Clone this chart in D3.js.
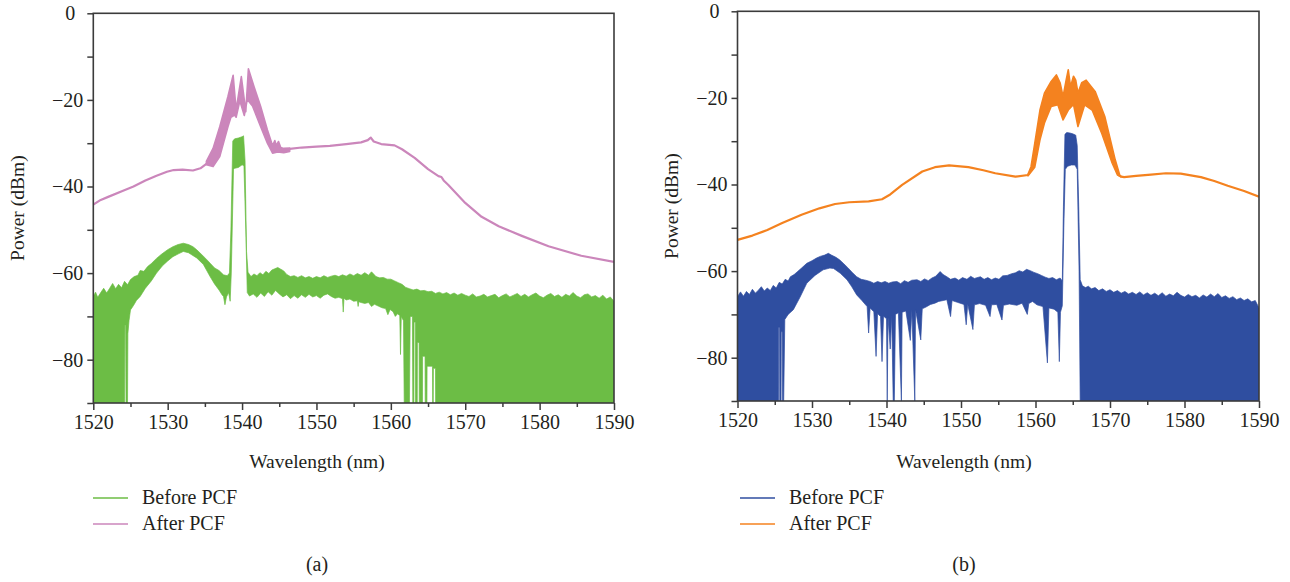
<!DOCTYPE html>
<html><head><meta charset="utf-8">
<script src="https://cdn.jsdelivr.net/npm/d3@7"></script>
<style>
body{margin:0;background:#fff}
svg text{font-family:"Liberation Serif","DejaVu Serif",serif;fill:#231f20}
</style>
</head><body>
<svg id="c" width="1290" height="582"></svg>
<script>
// ---------- axis / label data ----------
const xDomain = [1520, 1590];
const yDomain = [-90, 0];
const xMajorTicks = [1520, 1530, 1540, 1550, 1560, 1570, 1580, 1590];
const xMinorTicks = [1525, 1535, 1545, 1555, 1565, 1575, 1585];
const yMajorTicks = [0, -20, -40, -60, -80];
const yMinorTicks = [-10, -30, -50, -70, -90];
const xTitle = "Wavelength (nm)";
const yTitle = "Power (dBm)";
const seriesNames = ["Before PCF", "After PCF"];
const panelLabels = ["(a)", "(b)"];

// ---------- panel (a) ----------
// After PCF: smooth trace outside the oscillating peak
const afterA_line = [[1520,-44.2],[1521,-43.1],[1522,-42.4],[1524,-41.0],[1525.4,-40.0],[1527,-38.6],[1528.5,-37.5],[1529.9,-36.6],[1530.8,-36.2],[1532,-36.1],[1533.4,-36.3],[1534.4,-35.8],[1535.2,-34.8],[1535.6,-34.2],
  [1546.0,-31.5],[1546.4,-31.3],[1548,-31.0],[1550,-30.8],[1551.8,-30.6],[1554,-30.2],[1556,-29.8],[1556.9,-29.3],[1557.3,-28.7],[1557.7,-29.6],[1558.7,-30.2],[1560.5,-30.5],[1561.5,-31.4],[1563.2,-33.4],[1565,-36.0],[1566.4,-37.6],[1566.8,-37.8],[1567.1,-38.6],[1567.7,-39.6],[1570,-43.8],[1572.2,-47.0],[1574.5,-49.2],[1577.6,-51.4],[1581.2,-53.8],[1585.6,-56.0],[1590,-57.4]];
const afterA_bandUpper = [[1535.2,-34.2],[1536.1,-31.2],[1537,-26.2],[1538.1,-19.2],[1538.8,-14.3],[1539.2,-22.3],[1539.9,-14.6],[1540.5,-22.7],[1540.85,-12.8],[1541.6,-16.9],[1542.5,-21.5],[1543.4,-26.9],[1544.1,-30.6],[1544.4,-29.4],[1544.6,-30.5],[1544.9,-29.6],[1545.2,-31.0],[1545.6,-31.2],[1546.4,-31.1]];
const afterA_bandLower = [[1535.2,-35.0],[1536.1,-35.4],[1537,-33.1],[1538.1,-26.2],[1538.5,-24.0],[1539.0,-23.5],[1539.2,-24.0],[1539.7,-20.2],[1540.3,-23.6],[1540.7,-19.9],[1541.4,-21.4],[1542.5,-26.2],[1543.4,-30.0],[1544.1,-32.3],[1544.8,-32.0],[1545.6,-32.2],[1546.4,-31.9]];

// Before PCF: noisy trace given as its upper and lower envelope
const beforeA_upper = [[1520,-65.4],[1520.3,-64.4],[1520.6,-65.6],[1521,-64.5],[1521.4,-63.5],[1521.8,-64.6],[1522.2,-63.5],[1522.6,-62.4],[1523,-63.6],[1523.4,-62.6],[1523.8,-63.4],[1524.2,-61.9],[1524.6,-62.7],[1525,-61.5],[1525.5,-60.8],[1526,-60.5],[1526.3,-59.4],[1526.8,-59.6],[1527.3,-58.5],[1527.8,-57.8],[1528.5,-56.6],[1529.2,-55.6],[1530,-54.6],[1530.7,-53.9],[1531.4,-53.4],[1532.1,-53.1],[1532.8,-53.4],[1533.4,-53.9],[1533.9,-54.6],[1534.5,-55.6],[1535.1,-56.6],[1535.7,-57.7],[1536.3,-58.8],[1536.9,-59.4],[1537.5,-60.4],[1538.0,-60.6],[1538.3,-60.0],
  [1538.5,-50.0],[1538.75,-29.5],[1539.0,-29.0],[1539.5,-28.8],[1540.0,-28.5],[1540.2,-28.3],[1540.4,-34.0],[1540.6,-55.0],[1540.8,-59.8],
  [1541.2,-60.8],[1541.6,-60.2],[1542,-60.6],[1542.4,-59.9],[1542.8,-60.4],[1543.2,-59.6],[1543.6,-60.1],[1544,-59.3],[1544.4,-59.0],[1544.8,-58.7],[1545.2,-59.1],[1545.6,-59.5],[1546,-60.3],[1546.5,-60.8],[1547,-60.6],[1547.5,-61.0],[1548,-60.6],[1548.5,-61.1],[1549,-60.8],[1549.5,-61.2],[1550,-60.8],[1550.5,-61.1],[1551,-60.6],[1551.5,-61.0],[1552,-60.7],[1552.5,-60.5],[1553,-60.8],[1553.5,-60.4],[1554,-60.7],[1554.5,-60.2],[1555,-60.6],[1555.5,-60.1],[1556,-60.5],[1556.5,-59.9],[1557,-60.5],[1557.4,-59.7],[1558,-60.8],[1558.5,-61.1],[1559,-61.0],[1559.5,-61.4],[1560,-61.4],[1560.5,-61.8],[1561,-62.2],[1561.5,-62.6],[1562,-63.3],[1562.5,-63.6],[1563,-63.9],[1563.5,-63.7],[1564,-64.1],[1564.5,-64.0],[1565,-64.3],[1565.5,-64.2],[1566,-64.7],[1566.5,-64.4],[1567,-64.8],[1567.5,-64.5],[1568,-65.0],[1568.5,-64.6],[1569,-65.1],[1569.5,-64.7],[1570,-65.1],[1570.5,-65.4],[1571,-64.8],[1571.5,-65.5],[1572,-65.3],[1572.5,-64.9],[1573,-65.5],[1573.5,-65.2],[1574,-64.9],[1574.5,-65.7],[1575,-65.2],[1575.5,-64.8],[1576,-65.5],[1576.5,-65.1],[1577,-64.7],[1577.5,-65.4],[1578,-64.9],[1578.5,-65.5],[1579,-65.0],[1579.5,-64.6],[1580,-65.3],[1580.5,-65.7],[1581,-65.1],[1581.5,-64.7],[1582,-65.4],[1582.5,-65.0],[1583,-65.6],[1583.5,-64.9],[1584,-65.3],[1584.5,-64.5],[1585,-65.3],[1585.5,-65.7],[1586,-65.0],[1586.5,-64.8],[1587,-65.5],[1587.5,-65.2],[1588,-65.8],[1588.5,-65.1],[1589,-66.0],[1589.5,-65.5],[1590,-66.5]];
const beforeA_lower = [[1520,-90],[1524.2,-90],[1524.25,-72],[1524.35,-72],[1524.4,-90],[1524.6,-90],[1524.65,-74],[1524.8,-71],[1525.0,-68.5],[1525.4,-67.5],[1525.8,-66.3],[1526.3,-65.4],[1527,-63.5],[1527.8,-61.8],[1528.5,-60],[1529.3,-58.3],[1530,-57.2],[1530.7,-56.2],[1531.5,-55.5],[1532.1,-55.0],[1532.8,-55.3],[1533.9,-56.5],[1534.8,-58.0],[1535.7,-60.8],[1536.3,-62.5],[1536.9,-63.9],[1537.3,-65.0],[1537.5,-65.4],[1537.7,-67.3],[1537.9,-65.5],[1538.2,-64.5],[1538.4,-66.5],
  [1538.55,-60],[1538.85,-36.0],[1539.0,-35.8],[1539.5,-35.6],[1540.0,-35.0],[1540.25,-35.2],[1540.5,-50],[1540.7,-64.5],[1541,-65.3],
  [1541.5,-64.8],[1542,-65.6],[1542.5,-64.6],[1543,-65.4],[1543.5,-64.3],[1544,-65.1],[1544.5,-64.0],[1545,-64.8],[1545.5,-65.5],[1546,-65.0],[1546.5,-65.9],[1547,-65.2],[1547.5,-65.8],[1548,-65.0],[1548.5,-65.6],[1549,-64.9],[1549.5,-65.5],[1550,-65.2],[1550.5,-65.8],[1551,-65.1],[1551.5,-64.8],[1552,-65.4],[1552.5,-65.8],[1553,-65.6],[1553.5,-65.9],[1553.6,-69.0],[1553.7,-65.8],[1554,-66.2],[1554.5,-66.0],[1555,-66.5],[1555.5,-66.4],[1555.6,-67.7],[1555.7,-66.6],[1556,-66.8],[1556.5,-67.0],[1557,-66.8],[1557.4,-67.7],[1557.8,-67.2],[1558.3,-67.6],[1558.8,-68.0],[1559.3,-68.2],[1559.6,-69.6],[1559.9,-68.4],[1560.3,-68.9],[1560.6,-70.0],[1560.9,-69.4],[1561.2,-69.8],[1561.3,-78.8],[1561.4,-70.0],[1561.7,-71],[1561.8,-90],
  [1562.5,-90],[1562.6,-70],[1562.9,-70],[1562.95,-90],[1563.1,-90],[1563.12,-71.3],[1563.3,-71.3],[1563.32,-90],[1563.55,-90],[1563.57,-76],[1563.8,-76],[1563.82,-90],[1564.25,-90],[1564.27,-79.2],[1564.6,-79.2],[1564.62,-90],[1564.85,-90],[1564.87,-81.5],[1565.6,-81.5],[1565.62,-90],[1565.7,-90],[1565.72,-82],[1566.0,-82],[1566.02,-90],[1590,-90]];

// ---------- panel (b) ----------
const afterB_line = [[1520,-52.8],[1522,-51.8],[1524,-50.5],[1526,-48.9],[1528.6,-47.0],[1531,-45.5],[1533.1,-44.5],[1535,-44.1],[1537.6,-43.9],[1539.4,-43.4],[1540.5,-42.3],[1542.1,-40.1],[1544.8,-37.0],[1546.5,-36.0],[1548.4,-35.6],[1551,-36.0],[1553,-36.7],[1554.6,-37.4],[1557.3,-38.2],[1559.0,-37.8],[1559.3,-37.0],
  [1571.2,-37.9],[1571.5,-38.2],[1571.9,-38.3],[1573.5,-38.0],[1575.5,-37.7],[1577.5,-37.4],[1579.5,-37.5],[1582.2,-38.3],[1584,-39.2],[1585.8,-40.3],[1588,-41.5],[1590,-42.8]];
const afterB_bandUpper = [[1559.0,-37.6],[1559.4,-35.9],[1559.9,-30.5],[1560.6,-22.8],[1561.2,-18.9],[1562.1,-16.2],[1562.8,-14.7],[1563.3,-16.5],[1563.7,-19.7],[1564.1,-16.0],[1564.4,-13.5],[1564.7,-17.4],[1565.1,-15.0],[1565.4,-15.9],[1565.7,-18.9],[1566.2,-16.5],[1566.8,-15.9],[1568,-18.5],[1569.3,-24.3],[1570.7,-34.3],[1571.3,-37.8]];
const afterB_bandLower = [[1559.0,-38.0],[1559.9,-36.0],[1560.6,-29.7],[1561.2,-25.8],[1562.1,-22.0],[1563.0,-21.6],[1563.7,-25.1],[1564.4,-22.8],[1565.1,-21.5],[1565.7,-26.6],[1566.6,-21.6],[1567.6,-22.8],[1568.9,-28.2],[1570.3,-35.1],[1571.0,-37.8],[1571.5,-38.2]];

const beforeB_upper = [[1520,-65.9],[1520.4,-64.8],[1520.8,-65.8],[1521.2,-64.7],[1521.6,-65.4],[1522,-64.2],[1522.4,-65.1],[1522.8,-64.4],[1523.2,-63.6],[1523.6,-64.6],[1524,-63.9],[1524.4,-64.5],[1524.8,-63.3],[1525.2,-63.9],[1525.6,-62.6],[1526,-63.0],[1526.4,-61.9],[1526.8,-62.3],[1527.1,-61.3],[1527.6,-60.8],[1528,-60.2],[1528.6,-59.3],[1529.3,-58.2],[1530,-57.6],[1530.6,-57.0],[1531.1,-56.6],[1531.7,-56.3],[1532.2,-55.9],[1532.6,-56.3],[1533.2,-56.8],[1533.7,-57.4],[1534.2,-58.2],[1534.8,-59.2],[1535.4,-60.3],[1536,-61.3],[1536.6,-61.9],[1537.2,-62.1],[1537.8,-62.4],[1538.3,-62.8],[1538.8,-62.4],[1539.3,-62.7],[1539.8,-62.4],[1540.3,-62.8],[1540.8,-62.5],[1541.4,-62.4],[1541.9,-62.9],[1542.4,-62.2],[1542.9,-62.6],[1543.4,-62.1],[1544.1,-62.0],[1544.6,-62.4],[1545.1,-61.8],[1545.6,-62.2],[1546.1,-61.6],[1546.6,-61.2],[1547.2,-60.1],[1547.6,-60.8],[1548.1,-61.3],[1548.6,-61.9],[1549.2,-61.6],[1549.7,-62.1],[1550.2,-61.5],[1550.8,-61.9],[1551.3,-61.2],[1551.8,-61.7],[1552.6,-61.3],[1553.1,-61.9],[1553.6,-61.5],[1554.1,-62.0],[1554.6,-61.6],[1555.1,-61.9],[1555.6,-61.1],[1556.2,-61.0],[1556.8,-60.6],[1557.3,-60.4],[1557.8,-59.9],[1558.3,-60.2],[1558.8,-59.6],[1559.3,-59.9],[1559.8,-60.3],[1560.3,-60.6],[1560.8,-61.0],[1561.3,-61.4],[1561.8,-61.7],[1562.3,-61.5],[1562.8,-62.0],[1563.3,-61.6],[1563.6,-62.3],
  [1563.75,-45],[1563.95,-28.4],[1564.2,-28.0],[1564.6,-28.1],[1565.0,-28.3],[1565.4,-28.6],[1565.6,-31],[1565.8,-45],[1566.0,-62.0],
  [1566.3,-63.4],[1566.7,-63.8],[1567.1,-63.5],[1567.5,-64.1],[1568,-63.8],[1568.5,-64.5],[1569,-64.1],[1569.5,-64.7],[1570,-64.3],[1570.5,-64.9],[1571,-64.5],[1571.5,-65.1],[1572,-64.7],[1572.5,-65.3],[1573,-64.9],[1573.5,-65.4],[1574,-64.8],[1574.5,-65.5],[1575,-65.0],[1575.5,-65.6],[1576,-65.1],[1576.5,-65.7],[1577,-65.0],[1577.5,-65.8],[1578,-65.3],[1578.5,-65.7],[1579,-64.9],[1579.5,-65.6],[1580,-66.0],[1580.5,-65.4],[1581,-65.9],[1581.5,-65.6],[1582,-66.2],[1582.5,-65.5],[1583,-66.0],[1583.5,-65.3],[1584,-65.9],[1584.5,-65.2],[1585,-66.1],[1585.5,-65.7],[1586,-66.3],[1586.5,-65.9],[1587,-66.6],[1587.5,-66.2],[1588,-66.8],[1588.5,-66.4],[1589,-67.1],[1589.5,-66.8],[1590,-68.5]];
const beforeB_lower = [[1520,-90],[1525.5,-90],[1525.52,-73],[1525.65,-73],[1525.67,-90],[1525.85,-90],[1525.87,-74],[1526.0,-74],[1526.05,-90],[1526.2,-90],[1526.35,-71.2],[1526.8,-70.0],[1527.5,-68.9],[1528.4,-66],[1529.3,-62.8],[1530.4,-61.0],[1531.5,-59.7],[1532.4,-59.3],[1532.9,-59.4],[1533.8,-60.5],[1534.7,-62.0],[1535.3,-63.5],[1536,-65.5],[1536.7,-66.8],[1537.4,-68.2],[1537.6,-74.3],[1537.8,-68.5],[1538.3,-69.4],[1538.6,-79.7],[1538.8,-69.8],[1539.2,-70.5],[1539.4,-80.9],[1539.6,-70.4],[1540.0,-71],[1540.1,-90],[1540.2,-70.6],[1540.5,-78],[1540.7,-70.2],[1540.9,-90],[1541.05,-90],[1541.2,-70.0],[1541.6,-69.6],[1542.0,-90],[1542.1,-69.5],[1542.6,-69.2],[1543.2,-76],[1543.4,-69.0],[1543.8,-90],[1543.9,-68.9],[1544.6,-75.9],[1544.8,-68.7],[1545.3,-68.3],[1545.9,-67.7],[1546.5,-67.4],[1547.0,-67.0],[1547.6,-66.8],[1548.1,-66.6],[1548.6,-70.5],[1548.8,-66.8],[1549.5,-67.2],[1550.4,-67.7],[1550.7,-72.4],[1550.9,-67.6],[1551.6,-73.5],[1551.8,-67.8],[1552.5,-67.5],[1553.3,-67.9],[1553.9,-70.5],[1554.1,-67.8],[1554.8,-67.7],[1555.5,-71.3],[1555.7,-67.9],[1556.5,-67.6],[1557.5,-67.9],[1558.2,-67.4],[1558.9,-70.0],[1559.1,-67.5],[1559.6,-67.0],[1560.2,-67.8],[1561.0,-68.2],[1561.6,-81.2],[1561.8,-68.5],[1562.5,-68.8],[1563.0,-69.5],[1563.2,-80.9],[1563.35,-69.5],[1563.6,-68],
  [1563.8,-50],[1564.0,-36.5],[1564.3,-35.8],[1564.8,-35.5],[1565.3,-35.5],[1565.6,-36.5],[1565.85,-60],[1566.0,-90],[1590,-90]];

// ---------- drawing ----------
const svg = d3.select("#c");
const panels = [
  {id:"a", left:93.3, right:614, top:13.3, bottom:403, ytitleX:24, legendX:93, label:panelLabels[0], labelX:317,
   before:{upper:beforeA_upper, lower:beforeA_lower, color:"#6cbd45"},
   after:{line:afterA_line, bu:afterA_bandUpper, bl:afterA_bandLower, color:"#cb86bb"}},
  {id:"b", left:737.5, right:1259, top:11.3, bottom:401, ytitleX:678, legendX:740, label:panelLabels[1], labelX:964,
   before:{upper:beforeB_upper, lower:beforeB_lower, color:"#2f4ea0"},
   after:{line:afterB_line, bu:afterB_bandUpper, bl:afterB_bandLower, color:"#f4821f"}}
];
const axisColor = "#3b3b3b";
const fmt = d => d3.format("d")(d);

panels.forEach(p => {
  const x = d3.scaleLinear().domain(xDomain).range([p.left, p.right]);
  const y = d3.scaleLinear().domain(yDomain).range([p.bottom, p.top]);
  const g = svg.append("g");
  g.append("clipPath").attr("id","clip"+p.id).append("rect")
    .attr("x",p.left).attr("y",p.top).attr("width",p.right-p.left).attr("height",p.bottom-p.top);
  const plot = g.append("g").attr("clip-path","url(#clip"+p.id+")");
  const line = d3.line().x(d=>x(d[0])).y(d=>y(d[1]));

  // before PCF: envelope polygon
  const poly = p.before.upper.concat(p.before.lower.slice().reverse());
  plot.append("path").attr("d", line(poly)+"Z")
    .attr("fill",p.before.color).attr("stroke",p.before.color).attr("stroke-width",0.7);

  // after PCF: smooth line on both sides of the oscillating band, then the band
  const mid = (p.after.bu[0][0] + p.after.bu[p.after.bu.length-1][0]) / 2;
  [p.after.line.filter(d=>d[0] < mid), p.after.line.filter(d=>d[0] > mid)].forEach(seg=>{
    plot.append("path").attr("d", line(seg))
      .attr("fill","none").attr("stroke",p.after.color).attr("stroke-width",2.2).attr("stroke-linejoin","round");
  });
  const band = p.after.bu.concat(p.after.bl.slice().reverse());
  plot.append("path").attr("d", line(band)+"Z")
    .attr("fill",p.after.color).attr("stroke",p.after.color).attr("stroke-width",1.6).attr("stroke-linejoin","round");

  // axes
  const xAxisMajor = d3.axisBottom(x).tickValues(xMajorTicks).tickSize(7).tickPadding(5).tickFormat(fmt);
  const xAxisMinor = d3.axisBottom(x).tickValues(xMinorTicks).tickSize(4).tickFormat("");
  const yAxisMajor = d3.axisLeft(y).tickValues(yMajorTicks).tickSize(6).tickPadding(4).tickFormat(d3.format("d"));
  const yAxisMinor = d3.axisLeft(y).tickValues(yMinorTicks).tickSize(6).tickFormat("");
  [[xAxisMajor,"x"],[xAxisMinor,"x"],[yAxisMajor,"y"],[yAxisMinor,"y"]].forEach(([ax,k])=>{
    const a = g.append("g").attr("transform", k==="x" ? `translate(0,${p.bottom})` : `translate(${p.left},0)`).call(ax);
    a.select(".domain").remove();
    a.selectAll(".tick line").attr("stroke",axisColor).attr("stroke-width",1.5);
    a.selectAll(".tick text").attr("font-size",20).attr("font-family",'"Liberation Serif",serif').attr("fill","#231f20");
    if (k==="y") a.selectAll(".tick text").filter(d=>d===0).attr("dx",-8);
  });
  // frame
  g.append("rect").attr("x",p.left).attr("y",p.top).attr("width",p.right-p.left).attr("height",p.bottom-p.top)
    .attr("fill","none").attr("stroke",axisColor).attr("stroke-width",1.6);

  // titles
  g.append("text").attr("x",p.labelX).attr("y",468).attr("text-anchor","middle")
    .attr("font-size",19.5).text(xTitle);
  g.append("text").attr("transform",`translate(${p.ytitleX},${(p.top+p.bottom)/2}) rotate(-90)`)
    .attr("text-anchor","middle").attr("font-size",19.5).text(yTitle);

  // legend
  const lg = [p.before.color, p.after.color];
  seriesNames.forEach((n,i)=>{
    const yy = 498 + i*26;
    g.append("line").attr("x1",p.legendX).attr("x2",p.legendX+35).attr("y1",yy).attr("y2",yy)
      .attr("stroke",lg[i]).attr("stroke-width",1.6);
    g.append("text").attr("x",p.legendX+49).attr("y",yy+6).attr("font-size",20).text(n);
  });
  g.append("text").attr("x",p.labelX).attr("y",571).attr("text-anchor","middle").attr("font-size",20).text(p.label);
});
</script>
</body></html>
